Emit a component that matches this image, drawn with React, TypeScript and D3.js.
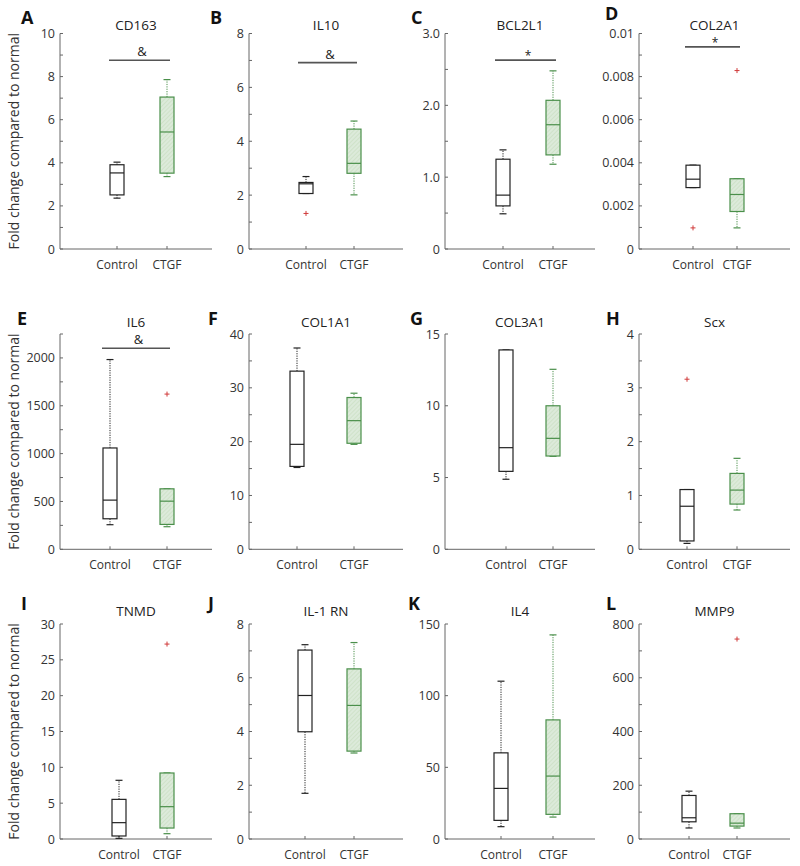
import React from "react";
import * as d3 from "d3";

// ---------- DATA ----------
const genes = ["CD163", "IL10", "BCL2L1", "COL2A1", "IL6", "COL1A1", "COL3A1", "Scx", "TNMD", "IL-1 RN", "IL4", "MMP9"];
const panelLetters = ["A", "B", "C", "D", "E", "F", "G", "H", "I", "J", "K", "L"];
const groups = ["Control", "CTGF"];

// [whiskerLow, q1, median, q3, whiskerHigh]
const controlStats = [
  [2.36, 2.51, 3.53, 3.91, 4.03],
  [2.06, 2.06, 2.42, 2.47, 2.69],
  [0.49, 0.6, 0.75, 1.25, 1.38],
  [0.00285, 0.00285, 0.00324, 0.00389, 0.00389],
  [257, 319, 514, 1059, 1983],
  [15.2, 15.4, 19.5, 33.1, 37.4],
  [4.88, 5.43, 7.08, 13.89, 13.89],
  [0.11, 0.155, 0.8, 1.11, 1.11],
  [0.09, 0.42, 2.28, 5.53, 8.19],
  [1.7, 3.99, 5.34, 7.03, 7.23],
  [8.6, 13.0, 35.3, 60.1, 110.1],
  [41, 64, 79, 162, 178],
];
const ctgfStats = [
  [3.36, 3.52, 5.43, 7.05, 7.86],
  [2.01, 2.81, 3.18, 4.45, 4.75],
  [1.18, 1.31, 1.73, 2.07, 2.48],
  [0.00098, 0.00174, 0.00253, 0.00326, 0.00326],
  [236, 260, 503, 632, 632],
  [19.5, 19.7, 23.9, 28.2, 29.0],
  [6.48, 6.5, 7.73, 10.0, 12.54],
  [0.73, 0.84, 1.1, 1.41, 1.69],
  [0.74, 1.53, 4.51, 9.21, 9.21],
  [3.2, 3.27, 4.97, 6.33, 7.31],
  [15.3, 17.2, 43.9, 83.1, 142.4],
  [41, 48, 59, 94, 94],
];
const controlOutliers = [[], [1.32], [], [0.00098], [], [], [], [3.16], [], [], [], []];
const ctgfOutliers = [[], [], [], [0.00828], [1622], [], [], [], [27.2], [], [], [744]];

const yMax = [10, 8, 3, 0.01, 2250, 40, 15, 4, 30, 8, 150, 800];
const yMajorStep = [2, 2, 1, 0.002, 500, 10, 5, 1, 5, 2, 50, 200];
const yMinorStep = [1, 1, 0.5, 0.001, 250, 5, 5, 0.5, 5, 1, 50, 100];

const sigSymbol = ["&", "&", "*", "*", "&", "", "", "", "", "", "", ""];
const sigLevel = [8.76, 6.92, 2.63, 0.00938, 2101, 0, 0, 0, 0, 0, 0, 0];

const yAxisLabel = "Fold change compared to normal";

// ---------- LAYOUT ----------
const colAxisX = [60, 249, 445, 639];
const colAxisRight = [212, 403, 595, 790];
const colCtgfX = [167, 354, 553, 737];
const ctrlXs = [117, 306, 503, 693, 110, 297, 506, 687, 119, 305, 501, 689];
const rowBottom = [249, 549.3, 839];
const rowTop = [33.5, 334, 624];
const rowTitleY = [30, 327, 616];
const letterYs = [24, 24, 24, 20, 325, 325, 325, 325, 610, 610, 610, 610];
const letterXs = [21, 210, 411, 605, 17, 208, 410, 606, 21, 208, 408, 606];

const FONT = "'Open Sans', 'Noto Sans', sans-serif";
const AXIS = "#666";
const TXT = "#333";
const GREEN = "#4a8f4a";
const RED = "#d03a3a";

function fmt(i: number, v: number) {
  if (Math.abs(v) < 1e-12) return "0";
  if (i === 2) return d3.format(".1f")(v);
  return d3.format("~g")(+v.toPrecision(6));
}

function Box({ x, s, y, color, fill, half }: any) {
  const [lo, q1, med, q3, hi] = s;
  const cap = 3.5;
  return (
    <g>
      <line x1={x} x2={x} y1={y(q3)} y2={y(hi)} stroke={color} strokeWidth={1} strokeDasharray="1.2,1.2" />
      <line x1={x} x2={x} y1={y(q1)} y2={y(lo)} stroke={color} strokeWidth={1} strokeDasharray="1.2,1.2" />
      <line x1={x - cap} x2={x + cap} y1={y(hi)} y2={y(hi)} stroke={color} strokeWidth={1.2} />
      <line x1={x - cap} x2={x + cap} y1={y(lo)} y2={y(lo)} stroke={color} strokeWidth={1.2} />
      <rect x={x - half} y={y(q3)} width={half * 2} height={Math.max(0.5, y(q1) - y(q3))} fill={fill} stroke={color} strokeWidth={1.2} />
      <line x1={x - half} x2={x + half} y1={y(med)} y2={y(med)} stroke={color} strokeWidth={1.2} />
    </g>
  );
}

function Plus({ x, y }: any) {
  const r = 2.5;
  return (
    <g stroke={RED} strokeWidth={1}>
      <line x1={x - r} x2={x + r} y1={y} y2={y} />
      <line x1={x} x2={x} y1={y - r} y2={y + r} />
    </g>
  );
}

function Panel({ i }: { i: number }) {
  const col = i % 4;
  const row = Math.floor(i / 4);
  const ax = colAxisX[col];
  const axR = colAxisRight[col];
  const y0 = rowBottom[row];
  const yT = rowTop[row];
  const y = d3.scaleLinear().domain([0, yMax[i]]).range([y0, yT]);
  const x = d3.scaleOrdinal<string, number>().domain(groups).range([ctrlXs[i], colCtgfX[col]]);
  const eps = yMax[i] * 1e-6;
  const minor = d3.range(0, yMax[i] + eps, yMinorStep[i]);
  const major = d3.range(0, yMax[i] + eps, yMajorStep[i]);
  const half = 7;
  const titleX = (ax + axR) / 2;
  return (
    <g>
      <text x={letterXs[i]} y={letterYs[i]} fontFamily={FONT} fontWeight={700} fontSize={18} fill="#111">
        {panelLetters[i]}
      </text>
      <text x={titleX} y={rowTitleY[row]} textAnchor="middle" fontFamily={FONT} fontSize={13.5} fill="#222">
        {genes[i]}
      </text>
      {/* axes */}
      <line x1={ax} x2={ax} y1={yT} y2={y0} stroke={AXIS} strokeWidth={1} />
      <line x1={ax} x2={axR} y1={y0} y2={y0} stroke={AXIS} strokeWidth={1} />
      {minor.map((v, k) => (
        <line key={"m" + k} x1={ax} x2={ax + 3} y1={y(v)} y2={y(v)} stroke={AXIS} strokeWidth={1} />
      ))}
      {major.map((v, k) => (
        <text key={"t" + k} x={ax - 5} y={y(v)} dy="0.36em" textAnchor="end" fontFamily={FONT} fontSize={12.5} fill={TXT}>
          {fmt(i, v)}
        </text>
      ))}
      {groups.map((g) => (
        <g key={g}>
          <line x1={x(g)} x2={x(g)} y1={y0} y2={y0 - 3} stroke={AXIS} strokeWidth={1} />
          <text x={x(g)} y={y0 + 20} textAnchor="middle" fontFamily={FONT} fontSize={12} fill={TXT}>
            {g}
          </text>
        </g>
      ))}
      {col === 0 && (
        <text
          transform={`translate(${19},${(y0 + yT) / 2}) rotate(-90)`}
          textAnchor="middle"
          fontFamily={FONT}
          fontSize={14}
          fill={TXT}
        >
          {yAxisLabel}
        </text>
      )}
      {/* significance */}
      {sigSymbol[i] && (
        <g>
          <line x1={x(groups[0]) - 8} x2={x(groups[1]) + 3} y1={y(sigLevel[i])} y2={y(sigLevel[i])} stroke="#555" strokeWidth={1.6} />
          <text x={(x(groups[0]) + x(groups[1])) / 2} y={y(sigLevel[i]) - (sigSymbol[i] === "*" ? 0 : 4)} textAnchor="middle" fontFamily={FONT} fontSize={sigSymbol[i] === "*" ? 12 : 13} fill="#222">
            {sigSymbol[i]}
          </text>
        </g>
      )}
      <Box x={x(groups[0])} s={controlStats[i]} y={y} color="#222" fill="#fff" half={half} />
      <Box x={x(groups[1])} s={ctgfStats[i]} y={y} color={GREEN} fill="url(#hatch)" half={half} />
      {controlOutliers[i].map((v, k) => (
        <Plus key={"co" + k} x={x(groups[0])} y={y(v)} />
      ))}
      {ctgfOutliers[i].map((v, k) => (
        <Plus key={"go" + k} x={x(groups[1])} y={y(v)} />
      ))}
    </g>
  );
}

export default function App() {
  return (
    <svg width={800} height={866} style={{ position: "absolute", left: 0, top: 0, background: "#fff" }}>
      <defs>
        <pattern id="hatch" width={3} height={3} patternUnits="userSpaceOnUse" patternTransform="rotate(45)">
          <rect width={3} height={3} fill="#dceada" />
          <line x1={0} y1={0} x2={0} y2={3} stroke="#c2dab9" strokeWidth={1} />
        </pattern>
      </defs>
      <rect width={800} height={866} fill="#fff" />
      {genes.map((_, i) => (
        <Panel key={i} i={i} />
      ))}
    </svg>
  );
}
